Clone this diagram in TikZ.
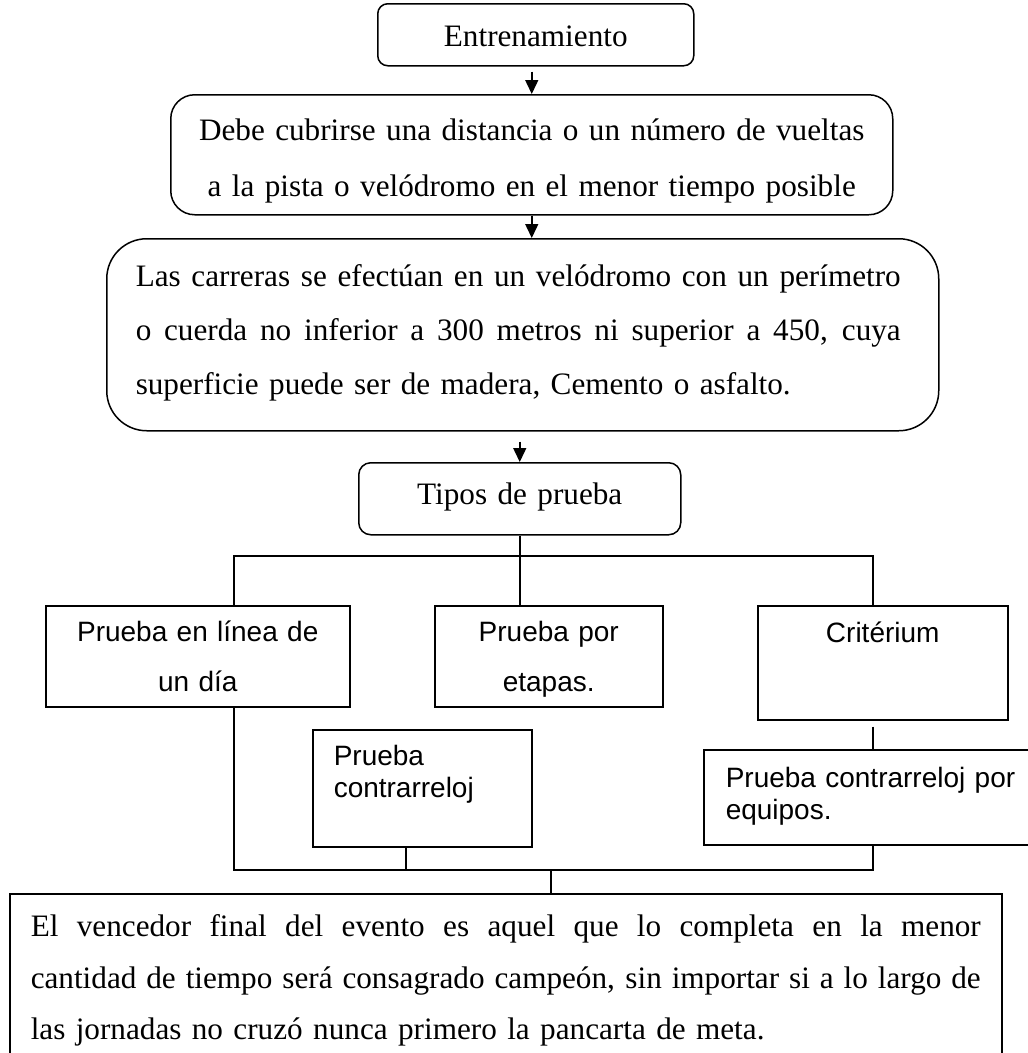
\documentclass[tikz,border=0pt]{standalone}
\usepackage{fontspec}
\setmainfont{Liberation Serif}
\newfontfamily\arialfont{Liberation Sans}
\usetikzlibrary{arrows.meta}
\newcommand{\tnr}[1]{\fontsize{31.2}{#1}\selectfont}
\newcommand{\ari}[1]{\arialfont\fontsize{28}{#1}\selectfont}
% one justified line of a given width
\newcommand{\jline}[2]{\leavevmode\hbox to #1{\spaceskip=0.25em plus 1fil minus 0.06em\relax #2}}

\begin{document}
\begin{tikzpicture}[x=1pt,y=-1pt,line width=1.5pt,
  flowbox/.style={draw,line width=1.5pt,inner ysep=0pt,anchor=north west},
  arr/.style={-{Triangle[length=14pt,width=13pt]}}]
  \useasboundingbox (0,0) rectangle (1028,1053);
  % rounded boxes, top part
  \node[flowbox,rounded corners=10pt,text width=316pt,inner xsep=0pt,text height=43pt,text depth=19pt,align=center,font=\tnr{54}] (entren) at (377,3) {Entrenamiento};
  \node[flowbox,rounded corners=24pt,text width=722pt,inner xsep=0pt,text height=46pt,text depth=74pt,align=center,font=\tnr{56}] (debe) at (170,94)
    {Debe cubrirse una distancia o un número de vueltas\\a la pista o velódromo en el menor tiempo posible};
  \node[flowbox,rounded corners=40pt,text width=774pt,inner xsep=29pt,text height=48pt,text depth=144pt,align=left,font=\tnr{54}] (carreras) at (106,238)
    {\jline{765pt}{Las carreras se efectúan en un velódromo con un perímetro}\\
     \jline{765pt}{o cuerda no inferior a 300 metros ni superior a 450, cuya}\\
     superficie puede ser de madera, Cemento o asfalto.};
  \node[flowbox,rounded corners=12pt,text width=322pt,inner xsep=0pt,text height=42pt,text depth=30pt,align=center,font=\tnr{54}] (tipos) at (358,462) {Tipos de prueba};
  % kinds of race
  \node[flowbox,text width=304pt,inner xsep=0pt,text height=36pt,text depth=65pt,align=center,font=\ari{50}] (linea) at (45,605) {Prueba en línea de\\un día};
  \node[flowbox,text width=228pt,inner xsep=0pt,text height=36pt,text depth=65pt,align=center,font=\ari{50}] (etapas) at (434,605) {Prueba por\\etapas.};
  \node[flowbox,text width=250pt,inner xsep=0pt,text height=37pt,text depth=77pt,align=center,font=\ari{32}] (criterium) at (757,605) {Critérium};
  \node[flowbox,text width=177pt,inner xsep=21pt,text height=36pt,text depth=81pt,align=left,font=\ari{32}] (contrarreloj) at (312,729) {Prueba\\contrarreloj};
  \node[flowbox,text width=340pt,inner xsep=0pt,text height=38pt,text depth=57pt,align=left,font=\ari{32}] (equipos) at (703,749)
    {\hspace*{22pt}Prueba contrarreloj por\\\hspace*{22pt}equipos.};
  % final box
  \node[flowbox,text width=950pt,inner xsep=21pt,text height=43pt,text depth=150pt,align=left,font=\tnr{51.5}] (vencedor) at (9,893)
    {\jline{950pt}{El vencedor final del evento es aquel que lo completa en la menor}\\
     \jline{950pt}{cantidad de tiempo será consagrado campeón, sin importar si a lo largo de}\\
     las jornadas no cruzó nunca primero la pancarta de meta.};
  % arrows
  \draw[arr,shorten <=5pt] (entren.south -| debe.north) -- (debe.north);
  \draw[arr] (debe.south) -- (debe.south |- carreras.north);
  \draw[arr,shorten <=10pt] (carreras.south -| tipos.north) -- (tipos.north);
  % upper bus
  \coordinate (busL) at (234,556);
  \coordinate (busR) at (873,556);
  \draw (tipos.south) -- (tipos.south |- etapas.north);
  \draw (busL |- linea.north) -- (busL) -- (busR) -- (busR |- criterium.north);
  \draw[shorten <=6pt] (busR |- criterium.south) -- (busR |- equipos.north);
  % lower bus
  \coordinate (joinL) at (234,870);
  \coordinate (joinR) at (873,870);
  \coordinate (joinC) at (406,870);
  \coordinate (joinV) at (551,870);
  \draw (joinL |- linea.south) -- (joinL) -- (joinR) -- (joinR |- equipos.south);
  \draw (joinC |- contrarreloj.south) -- (joinC);
  \draw (joinV) -- (joinV |- vencedor.north);
\end{tikzpicture}
\end{document}
